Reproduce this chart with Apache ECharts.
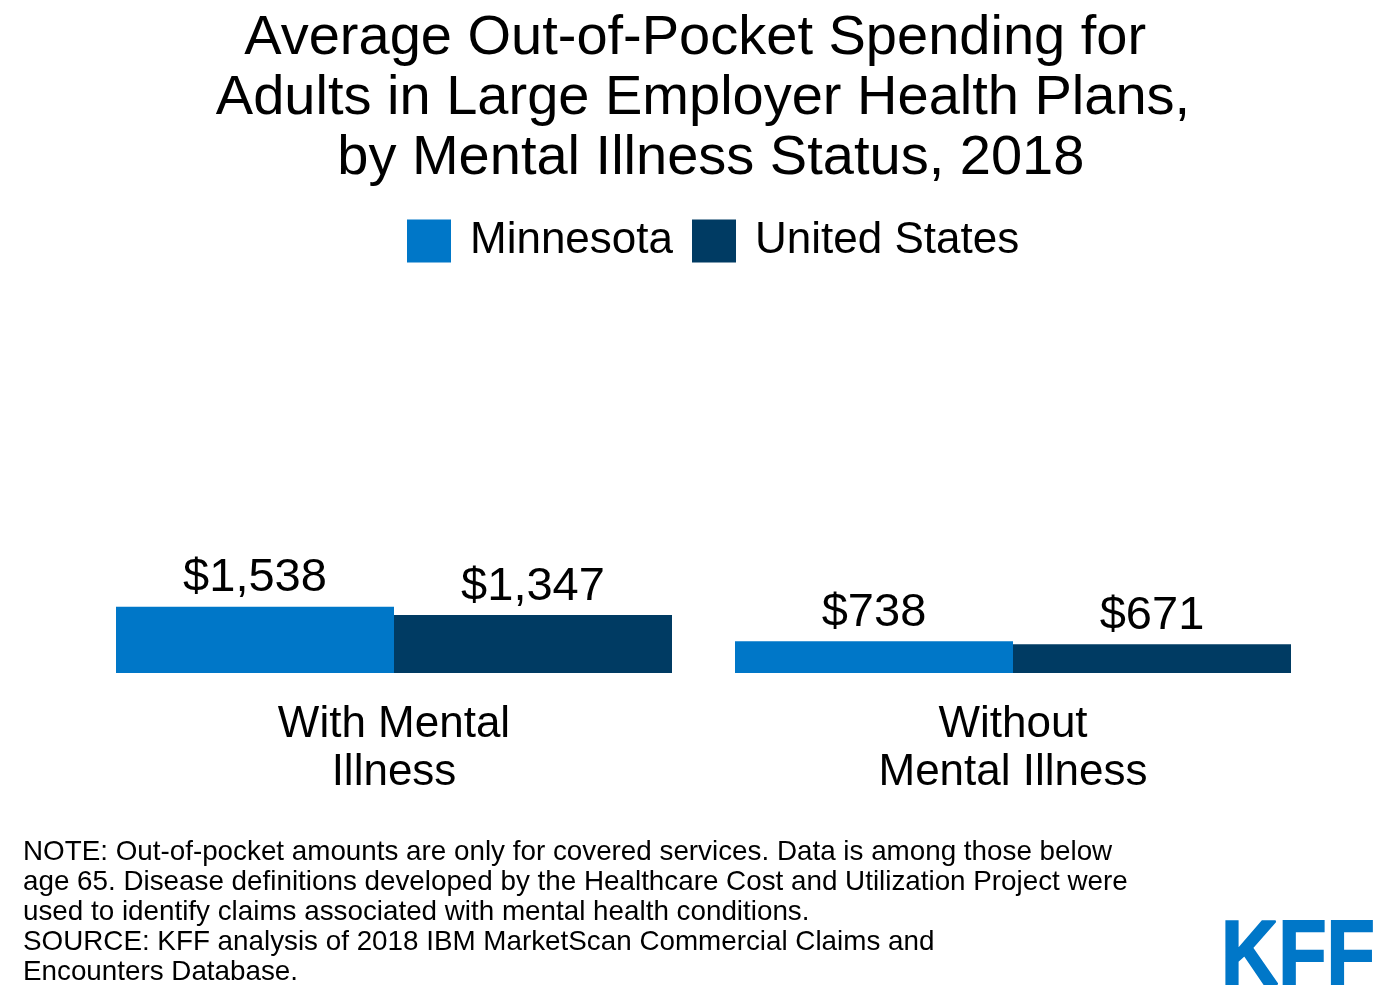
<!DOCTYPE html>
<html>
<head>
<meta charset="utf-8">
<script src="https://cdn.jsdelivr.net/npm/echarts@6/dist/echarts.min.js"></script>
<style>html,body{margin:0;padding:0;background:#fff;}#c{width:1400px;height:1000px;}</style>
</head>
<body>
<div id="c"></div>
<script>
const categories = ['With Mental\nIllness', 'Without\nMental Illness'];
const seriesNames = ['Minnesota', 'United States'];
const minnesota = [1538, 738];
const unitedStates = [1347, 671];
const titleLines = [
  'Average Out-of-Pocket Spending for ',
  'Adults in Large Employer Health Plans,',
  ' by Mental Illness Status, 2018'
];
const noteLines = [
  'NOTE: Out-of-pocket amounts are only for covered services. Data is among those below',
  'age 65. Disease definitions developed by the Healthcare Cost and Utilization Project were',
  'used to identify claims associated with mental health conditions.',
  'SOURCE: KFF analysis of 2018 IBM MarketScan Commercial Claims and',
  'Encounters Database.'
];

const FONT = '"Liberation Sans", Arial, sans-serif';
const chart = echarts.init(document.getElementById('c'), null, {renderer: 'canvas'});
const fmt = p => '$' + p.value.toLocaleString('en-US');

chart.setOption({
  backgroundColor: '#ffffff',
  animation: false,
  legend: {
    data: seriesNames,
    left: 407,
    top: 219,
    itemWidth: 44,
    itemHeight: 43,
    itemGap: 19,
    icon: 'rect',
    padding: 0,
    textStyle: {fontFamily: FONT, fontSize: 44, color: '#000', padding: [5, 0, 0, 14]}
  },
  grid: {left: 84.5, right: 77.5, top: 286, bottom: 327, containLabel: false},
  xAxis: {
    type: 'category',
    data: categories,
    axisLine: {show: false},
    axisTick: {show: false},
    axisLabel: {fontFamily: FONT, fontSize: 44, color: '#000', lineHeight: 48, margin: 28, interval: 0}
  },
  yAxis: {type: 'value', min: 0, max: 9000, show: false, splitLine: {show: false}},
  series: [
    {
      name: seriesNames[0], type: 'bar', data: minnesota, barWidth: 278, barGap: '0%',
      itemStyle: {color: '#0077C8'},
      label: {show: true, position: 'top', formatter: fmt, fontFamily: FONT, fontSize: 47, color: '#000', distance: 5}
    },
    {
      name: seriesNames[1], type: 'bar', data: unitedStates, barWidth: 278, barGap: '0%',
      itemStyle: {color: '#003B63'},
      label: {show: true, position: 'top', formatter: fmt, fontFamily: FONT, fontSize: 47, color: '#000', distance: 5}
    }
  ],
  graphic: [
    {
      type: 'text', x: 703, y: 9,
      style: {text: titleLines.join('\n'), textAlign: 'center', fontFamily: FONT, fontSize: 56, lineHeight: 60, fill: '#000'}
    },
    {
      type: 'text', left: 23, top: 837,
      style: {text: noteLines.join('\n'), fontFamily: FONT, fontSize: 27.8, lineHeight: 30, fill: '#000'}
    },
    {
      type: 'text', x: 1221, y: 914, scaleX: 0.88,
      style: {text: 'KFF', fontFamily: FONT, fontSize: 90, fontWeight: 900, fill: '#0077C8', stroke: '#0077C8', lineWidth: 2}
    }
  ]
});
</script>
</body>
</html>
